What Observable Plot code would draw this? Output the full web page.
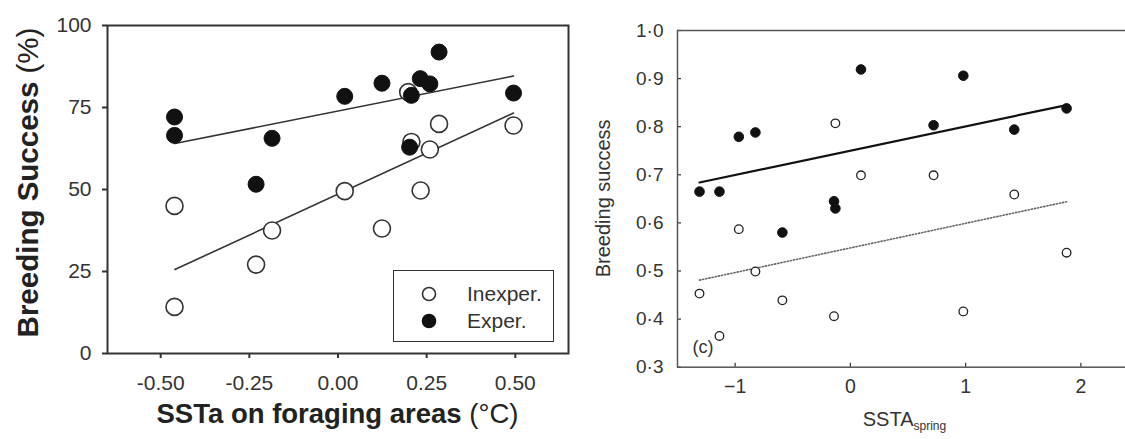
<!DOCTYPE html>
<html>
<head>
<meta charset="utf-8">
<script src="https://cdn.jsdelivr.net/npm/d3@7"></script>
<script src="https://cdn.jsdelivr.net/npm/@observablehq/plot@0.6"></script>
<style>
  html, body { margin: 0; padding: 0; background: #fff; overflow: hidden; width: 1125px; height: 439px; }
  #wrap { position: relative; width: 1125px; height: 439px; overflow: hidden; font-family: "Liberation Sans", Arial, Helvetica, sans-serif; }
  #left { position: absolute; left: 0; top: 0; width: 575px; height: 439px; }
  #right { position: absolute; left: 575px; top: 0; width: 573px; height: 439px; }
  #left svg, #right svg { max-width: none !important; }
  #legend { position: absolute; left: 393px; top: 270px; width: 159px; height: 70px; border: 1.6px solid #333; background: #fff; color: #333; font-size: 21px; }
  #legend .item { position: absolute; left: 0; display: flex; align-items: center; }
  #legend svg { display: block; }
</style>
</head>
<body>
<div id="wrap">
  <div id="left"></div>
  <div id="right"></div>
  <div id="legend"></div>
</div>
<script>
// ---------- Left panel data ----------
const leftXTicks = [-0.5, -0.25, 0, 0.25, 0.5];
const leftYTicks = [0, 25, 50, 75, 100];
const leftXDomain = [-0.65, 0.65];
const leftYDomain = [0, 100];

const inexpX = [-0.461, -0.461, -0.231, -0.186, 0.019, 0.124, 0.233, 0.259, 0.207, 0.198, 0.285, 0.495];
const inexpY = [14.2, 45.0, 27.1, 37.5, 49.5, 38.1, 49.7, 62.2, 64.5, 79.7, 70.0, 69.5];
const expX   = [-0.461, -0.461, -0.231, -0.186, 0.019, 0.124, 0.207, 0.202, 0.232, 0.259, 0.285, 0.495];
const expY   = [72.1, 66.5, 51.6, 65.6, 78.4, 82.4, 78.7, 62.9, 83.8, 82.2, 91.9, 79.4];

const inexpFitX = [-0.46, 0.495];
const inexpFitY = [25.6, 73.3];
const expFitX = [-0.46, 0.495];
const expFitY = [64.0, 84.6];

const legendLabels = ["Inexper.", "Exper."];
const leftXTitle = ["SSTa on foraging areas", " (°C)"];
const leftYTitle = ["Breeding Success", " (%)"];

// ---------- Right panel data ----------
const rightXTicks = [-1, 0, 1, 2];
const rightYTicks = [0.3, 0.4, 0.5, 0.6, 0.7, 0.8, 0.9, 1.0];
const rightXDomain = [-1.5, 2.5];
const rightYDomain = [0.3, 1.0];

const expSprX = [-1.309, -1.136, -0.968, -0.824, -0.590, -0.142, -0.130, 0.092, 0.722, 0.980, 1.422, 1.876];
const expSprY = [0.665, 0.665, 0.779, 0.788, 0.580, 0.645, 0.630, 0.919, 0.803, 0.906, 0.794, 0.838];
const inexpSprX = [-1.309, -1.136, -0.968, -0.824, -0.590, -0.142, -0.130, 0.092, 0.722, 0.980, 1.422, 1.876];
const inexpSprY = [0.453, 0.365, 0.587, 0.499, 0.439, 0.406, 0.807, 0.699, 0.699, 0.416, 0.659, 0.538];

const expSprFitX = [-1.309, 1.876];
const expSprFitY = [0.684, 0.845];
const inexpSprFitX = [-1.309, 1.876];
const inexpSprFitY = [0.481, 0.644];

const panelLabel = "(c)";
const rightXTitle = ["SSTA", "spring"];
const rightYTitle = "Breeding success";

const FONT = '"Liberation Sans", Arial, Helvetica, sans-serif';
const zip = (xs, ys) => xs.map((x, i) => ({x, y: ys[i]}));

// ---------- Left plot ----------
const L = {width: 575, height: 439, ml: 107, mr: 7, mt: 25, mb: 86};
const left = Plot.plot({
  width: L.width, height: L.height,
  marginLeft: L.ml, marginRight: L.mr, marginTop: L.mt, marginBottom: L.mb,
  style: {fontFamily: FONT, fontSize: "21px", color: "#333", background: "transparent", overflow: "visible", maxWidth: "none"},
  x: {domain: leftXDomain, label: null},
  y: {domain: leftYDomain, label: null},
  marks: [
    Plot.axisX({ticks: leftXTicks, tickSize: 5, tickPadding: 17, tickFormat: d => d.toFixed(2), label: null, fontSize: 21, strokeWidth: 2}),
    Plot.axisY({ticks: leftYTicks, tickSize: 5, tickPadding: 11, tickFormat: d => String(d), label: null, fontSize: 21, strokeWidth: 2}),
    Plot.frame({stroke: "#333", strokeWidth: 2}),
    Plot.line(zip(expFitX, expFitY), {x: "x", y: "y", stroke: "#333", strokeWidth: 1.6}),
    Plot.line(zip(inexpFitX, inexpFitY), {x: "x", y: "y", stroke: "#333", strokeWidth: 1.6}),
    Plot.dot(zip(inexpX, inexpY), {x: "x", y: "y", r: 8.5, fill: "#fff", stroke: "#333", strokeWidth: 1.6}),
    Plot.dot(zip(expX, expY), {x: "x", y: "y", r: 8, fill: "#111", stroke: "#111", strokeWidth: 1})
  ]
});
document.getElementById("left").appendChild(left);

{
  const svg = d3.select(left);
  const cx = (L.ml + L.width - L.mr) / 2;
  const t = svg.append("text").attr("x", cx).attr("y", 423).attr("text-anchor", "middle")
    .attr("font-family", FONT).attr("font-size", 27.5).attr("fill", "#222");
  t.append("tspan").attr("font-weight", "bold").text(leftXTitle[0]);
  t.append("tspan").attr("font-weight", "normal").text(leftXTitle[1]);
  const cy = 182.5;
  const ty = svg.append("text").attr("transform", `translate(38,${cy}) rotate(-90)`).attr("text-anchor", "middle")
    .attr("font-family", FONT).attr("font-size", 29.5).attr("fill", "#222");
  ty.append("tspan").attr("font-weight", "bold").text(leftYTitle[0]);
  ty.append("tspan").attr("font-weight", "normal").text(leftYTitle[1]);
}

// ---------- Legend (HTML) ----------
{
  const lg = d3.select("#legend");
  const styles = [{fill: "#fff", stroke: "#333"}, {fill: "#111", stroke: "#111"}];
  legendLabels.forEach((lab, i) => {
    const item = lg.append("div").attr("class", "item").style("top", (i === 0 ? 10 : 37) + "px");
    const s = item.append("svg").attr("width", 70).attr("height", 26);
    s.append("circle").attr("cx", 35).attr("cy", 13).attr("r", 6.5)
      .attr("fill", styles[i].fill).attr("stroke", styles[i].stroke).attr("stroke-width", 1.6);
    item.append("span").text(lab).style("margin-left", "3px");
  });
}

// ---------- Right plot ----------
const R = {width: 573, height: 439, ml: 102, mr: 10, mt: 30, mb: 72.3};
const yFmt = d => d.toFixed(1).replace(".", "\u00B7");
const xFmt = d => (d < 0 ? "\u2212" : "") + Math.abs(d);
const right = Plot.plot({
  width: R.width, height: R.height,
  marginLeft: R.ml, marginRight: R.mr, marginTop: R.mt, marginBottom: R.mb,
  style: {fontFamily: FONT, fontSize: "19px", color: "#333", background: "transparent", overflow: "visible", maxWidth: "none"},
  x: {domain: rightXDomain, label: null},
  y: {domain: rightYDomain, label: null},
  marks: [
    Plot.axisX({ticks: rightXTicks, tickSize: -4, tickPadding: 16, tickFormat: xFmt, label: null, fontSize: 19.5, strokeWidth: 1.2}),
    Plot.axisY({ticks: rightYTicks, tickSize: -4, tickPadding: 18, tickFormat: yFmt, label: null, fontSize: 19, strokeWidth: 1.2}),
    Plot.frame({stroke: "#555", strokeWidth: 1.5}),
    Plot.line(zip(inexpSprFitX, inexpSprFitY), {x: "x", y: "y", stroke: "#666", strokeWidth: 1.6, strokeDasharray: "1.2,2"}),
    Plot.line(zip(expSprFitX, expSprFitY), {x: "x", y: "y", stroke: "#111", strokeWidth: 2.2}),
    Plot.dot(zip(inexpSprX, inexpSprY), {x: "x", y: "y", r: 4.3, fill: "#fff", stroke: "#222", strokeWidth: 1.3}),
    Plot.dot(zip(expSprX, expSprY), {x: "x", y: "y", r: 4.8, fill: "#111", stroke: "#111", strokeWidth: 1}),
    Plot.text([panelLabel], {text: d => d, frameAnchor: "bottom-left", dx: 15, dy: -14, textAnchor: "start", lineAnchor: "bottom", fontSize: 18, fill: "#333"})
  ]
});
document.getElementById("right").appendChild(right);

{
  const svg = d3.select(right);
  const cx = (R.ml + (R.width - R.mr)) / 2 - 3;
  const t = svg.append("text").attr("x", cx).attr("y", 426).attr("text-anchor", "middle")
    .attr("font-family", FONT).attr("font-size", 20).attr("fill", "#333");
  t.append("tspan").text(rightXTitle[0]);
  t.append("tspan").attr("font-size", 12).attr("dy", 4).text(rightXTitle[1]);
  const cy = (R.mt + (R.height - R.mb)) / 2;
  svg.append("text").attr("transform", `translate(35,${cy}) rotate(-90)`).attr("text-anchor", "middle")
    .attr("font-family", FONT).attr("font-size", 20).attr("fill", "#333").text(rightYTitle);
}
</script>
</body>
</html>
